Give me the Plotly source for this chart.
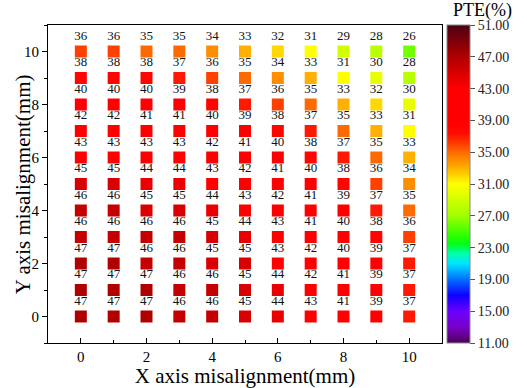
import plotly.graph_objects as go

# Misalignment grid (mm)
x_offsets = list(range(11))
y_offsets = list(range(11))

# Power transfer efficiency (%) per row, row index = Y misalignment, column = X misalignment
pte_rows = {
    0:  [47, 47, 47, 46, 46, 45, 44, 43, 41, 39, 37],
    1:  [47, 47, 47, 46, 46, 45, 44, 42, 41, 39, 37],
    2:  [47, 47, 46, 46, 45, 45, 43, 42, 40, 39, 37],
    3:  [46, 46, 46, 46, 45, 44, 43, 41, 40, 38, 36],
    4:  [46, 46, 45, 45, 44, 43, 42, 41, 39, 37, 35],
    5:  [45, 45, 44, 44, 43, 42, 41, 40, 38, 36, 34],
    6:  [43, 43, 43, 43, 42, 41, 40, 38, 37, 35, 33],
    7:  [42, 42, 41, 41, 40, 39, 38, 37, 35, 33, 31],
    8:  [40, 40, 40, 39, 38, 37, 36, 35, 33, 32, 30],
    9:  [38, 38, 38, 37, 36, 35, 34, 33, 31, 30, 28],
    10: [36, 36, 35, 35, 34, 33, 32, 31, 29, 28, 26],
}

cbar_ticks = [11, 15, 19, 23, 27, 31, 35, 39, 43, 47, 51]
c_min, c_max = 11, 51

# Rainbow-style scale from dark purple to dark maroon
rainbow = [
    [0.000, "#4e0058"],
    [0.050, "#7a00c8"],
    [0.100, "#6a00ff"],
    [0.150, "#1000ff"],
    [0.200, "#0070ff"],
    [0.250, "#00e4ff"],
    [0.280, "#00ffb0"],
    [0.310, "#00ff20"],
    [0.330, "#20ff00"],
    [0.400, "#a0ff00"],
    [0.470, "#e4ff00"],
    [0.500, "#ffff00"],
    [0.550, "#ffb000"],
    [0.600, "#ff6a00"],
    [0.625, "#ff4000"],
    [0.660, "#ff0a00"],
    [0.690, "#ff0000"],
    [0.800, "#ff0000"],
    [0.900, "#b00000"],
    [1.000, "#4a0012"],
]

xs, ys, vals = [], [], []
for yy in y_offsets:
    for xx, v in zip(x_offsets, pte_rows[yy]):
        xs.append(xx)
        ys.append(yy)
        vals.append(v)

serif = "Liberation Serif"

fig = go.Figure()
# Coloured squares with their values printed above
fig.add_trace(go.Scatter(
    x=xs, y=ys, mode="markers+text",
    text=[str(v) for v in vals],
    textposition="top center",
    textfont=dict(family=serif, size=13, color="#111111"),
    marker=dict(
        symbol="square", size=12, color=vals,
        colorscale=rainbow, cmin=c_min, cmax=c_max,
        line=dict(width=0),
        showscale=True,
        colorbar=dict(
            x=1.013, xanchor="left", xpad=0,
            y=0.5, yanchor="middle", len=1.0, ypad=0,
            thickness=23,
            outlinewidth=1, outlinecolor="#888888",
            tickvals=cbar_ticks, tickformat=".2f",
            ticks="outside", ticklen=5, tickcolor="#555555",
            tickfont=dict(family=serif, size=14, color="#222222"),
        ),
    ),
    hoverinfo="skip",
    showlegend=False,
))

axis_common = dict(
    showgrid=False, zeroline=False, automargin=False,
    showline=True, mirror=True, linecolor="black", linewidth=1.2,
    tickfont=dict(family=serif, size=15, color="black"),
    tickcolor="black",
    range=[-1, 11], dtick=2, tick0=0,
)

fig.update_xaxes(
    **axis_common, ticks="inside", ticklen=5,
    minor=dict(ticks="inside", ticklen=3, dtick=1, tick0=0, tickcolor="black"),
    title=dict(text="X axis misalignment(mm)", font=dict(family=serif, size=21, color="black"), standoff=0),
)
fig.update_yaxes(
    **axis_common, ticks="outside", ticklen=5,
    minor=dict(ticks="outside", ticklen=3, dtick=1, tick0=0, tickcolor="black"),
)

fig.add_annotation(
    text="Y axis misalignment(mm)", xref="paper", yref="paper",
    x=-0.063, y=0.5, xanchor="center", yanchor="middle", textangle=-90,
    showarrow=False, font=dict(family=serif, size=21, color="black"),
)
fig.add_annotation(
    text="PTE(%)", xref="paper", yref="paper",
    x=1.104, y=1.0, xanchor="center", yanchor="bottom", yshift=2,
    showarrow=False, font=dict(family=serif, size=18, color="black"),
)

fig.update_layout(
    width=527, height=388,
    margin=dict(l=48, r=85, t=25, b=45),
    paper_bgcolor="white", plot_bgcolor="white",
)

fig.write_html("out.html")
